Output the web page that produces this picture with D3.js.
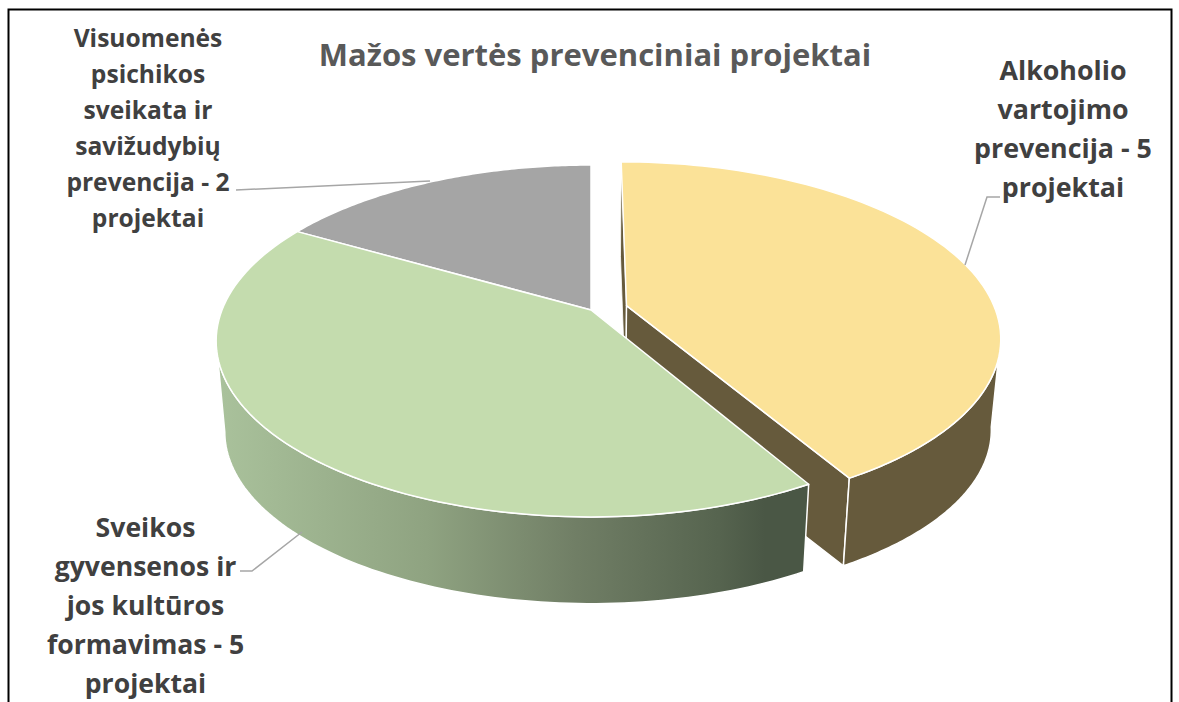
<!DOCTYPE html>
<html>
<head>
<meta charset="utf-8">
<script src="https://cdn.jsdelivr.net/npm/d3@7"></script>
<style>
  html, body { margin: 0; padding: 0; background: #ffffff; }
  svg { display: block; }
</style>
</head>
<body>
<div id="chart"></div>
<script>
var title = "Mažos vertės prevenciniai projektai";
var categories = [
  "Alkoholio vartojimo prevencija",
  "Sveikos gyvensenos ir jos kultūros formavimas",
  "Visuomenės psichikos sveikata ir savižudybių prevencija",
];
var projects = [5, 5, 2];
var label_lines = [
  ["Alkoholio", "vartojimo", "prevencija - 5", "projektai"],
  ["Sveikos", "gyvensenos ir", "jos kultūros", "formavimas - 5", "projektai"],
  ["Visuomenės", "psichikos", "sveikata ir", "savižudybių", "prevencija - 2", "projektai"],
];

var width = 1179,
  height = 702;

// tilted disc: y is squeezed, front of the disc gets bigger
var persp = 0.176,
  depth_scale = 0.977,
  depth_shift = 91.5,
  explode = [0.1, 0, 0];

// angle where the rim turns away, walls stop there
var side_angle = Math.acos(-persp);

var x_scale = d3.scaleLinear().domain([-1, 1]).range([591 - 369, 591 + 369]);
var y_scale = d3.scaleLinear().domain([-1, 1]).range([310 - 170.5, 310 + 170.5]);

var svg = d3
  .select("#chart")
  .append("svg")
  .attr("width", width)
  .attr("height", height);

var defs = svg.append("defs");
var wall_grad = defs
  .append("linearGradient")
  .attr("id", "green-wall")
  .attr("gradientUnits", "userSpaceOnUse")
  .attr("x1", 222)
  .attr("x2", 806)
  .attr("y1", 0)
  .attr("y2", 0);
[
  ["0%", "#a9c19b"],
  ["35%", "#8fa381"],
  ["60%", "#717f66"],
  ["85%", "#56644f"],
  ["93%", "#4a5745"],
  ["100%", "#4a5745"],
].forEach(function (s) {
  wall_grad.append("stop").attr("offset", s[0]).attr("stop-color", s[1]);
});

var slices = d3.pie().sort(null).value((d) => d)(projects);

// a = angle from top, clockwise. r = share of radius. low = bottom face
function project(a, r, i, low) {
  var mid = (slices[i].startAngle + slices[i].endAngle) / 2,
    ux = r * Math.sin(a) + explode[i] * Math.sin(mid),
    uy = -r * Math.cos(a) - explode[i] * Math.cos(mid),
    w = 1 / (1 - persp * uy),
    px = x_scale(ux * w),
    py = y_scale(uy * w);
  if (low) {
    px = x_scale(0) + (px - x_scale(0)) * depth_scale;
    py = y_scale(0) + (py - y_scale(0)) * depth_scale + depth_shift;
  }
  return [px, py];
}

function arc_points(a0, a1, i, low) {
  var n = 90;
  return d3.range(n + 1).map((k) => project(a0 + ((a1 - a0) * k) / n, 1, i, low));
}

var line = d3.line().curve(d3.curveLinear);

function draw(points, fill) {
  return svg
    .append("path")
    .attr("d", line(points) + "Z")
    .attr("fill", fill)
    .attr("stroke", "#ffffff")
    .attr("stroke-width", 1.5)
    .attr("stroke-linejoin", "round");
}

function top_face(i) {
  return [project(0, 0, i, false)].concat(
    arc_points(slices[i].startAngle, slices[i].endAngle, i, false)
  );
}

function outer_wall(a0, a1, i) {
  return arc_points(a0, a1, i, false).concat(arc_points(a0, a1, i, true).reverse());
}

function cut_wall(a, i) {
  return [
    project(0, 0, i, false),
    project(a, 1, i, false),
    project(a, 1, i, true),
    project(0, 0, i, true),
  ];
}

var top_colors = ["#fbe298", "#c4dcae", "#a5a5a5"],
  wall_color = "#665a3c";

// yellow slice first, it sits behind the green one
draw(cut_wall(slices[0].startAngle, 0), wall_color).attr("stroke-width", 0.8);
draw(cut_wall(slices[0].endAngle, 0), wall_color);
draw(outer_wall(side_angle, slices[0].endAngle, 0), wall_color);
draw(top_face(0), top_colors[0]);

draw(top_face(2), top_colors[2]);

draw(outer_wall(slices[1].startAngle, 2 * Math.PI - side_angle, 1), "url(#green-wall)");
draw(top_face(1), top_colors[1]);

// frame, runs off the bottom of the picture
svg
  .append("rect")
  .attr("x", 8.5)
  .attr("y", 9.5)
  .attr("width", 1163)
  .attr("height", 720)
  .attr("fill", "none")
  .attr("stroke", "#000000")
  .attr("stroke-width", 2);

svg
  .append("text")
  .attr("x", 595)
  .attr("y", 66)
  .attr("text-anchor", "middle")
  .attr("font-family", "'Open Sans'")
  .attr("font-weight", 700)
  .attr("font-size", "31px")
  .attr("fill", "#595959")
  .text(title);

var label_layout = [
  { x: 1063, y: 80, step: 39, size: 26.8 },
  { x: 145.5, y: 537, step: 39, size: 26.6 },
  { x: 148, y: 47, step: 36, size: 24.6 },
];

label_lines.forEach(function (lines, i) {
  var lay = label_layout[i];
  svg
    .selectAll(null)
    .data(lines)
    .enter()
    .append("text")
    .attr("x", lay.x)
    .attr("y", (d, k) => lay.y + k * lay.step)
    .attr("text-anchor", "middle")
    .attr("font-family", "'Open Sans'")
    .attr("font-weight", 700)
    .attr("font-size", lay.size + "px")
    .attr("fill", "#404040")
    .text((d) => d);
});

var leaders = [
  [[1000, 197], [987, 197], [965, 265]],
  [[240, 571], [252, 571], [302, 532]],
  [[236, 190], [430, 181]],
];

svg
  .selectAll(null)
  .data(leaders)
  .enter()
  .append("path")
  .attr("d", (d) => line(d))
  .attr("fill", "none")
  .attr("stroke", "#a6a6a6")
  .attr("stroke-width", 1.5);
</script>
</body>
</html>
